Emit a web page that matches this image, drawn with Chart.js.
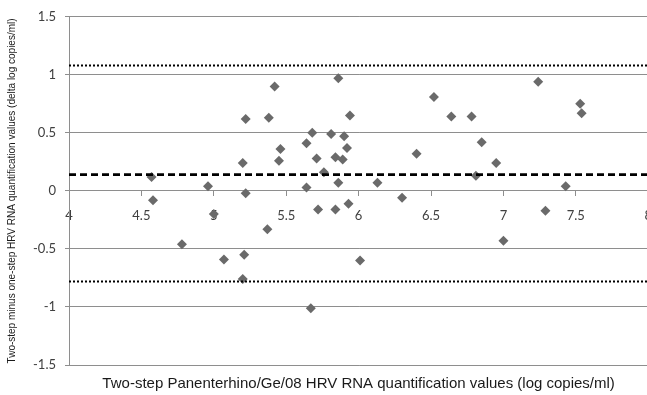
<!DOCTYPE html>
<html>
<head>
<meta charset="utf-8">
<script src="https://cdn.jsdelivr.net/npm/chart.js@4/dist/chart.umd.min.js"></script>
<style>
  html, body { margin: 0; padding: 0; background: #fff; overflow: hidden; }
  #wrap { position: relative; width: 664px; height: 395px; }
</style>
</head>
<body>
<div id="wrap"><canvas id="c"></canvas></div>
<script>
// Two-step HRV RNA quantification (log copies/ml)
const xValues = [4.57,4.58,4.78,4.96,5.00,5.07,5.21,5.20,5.20,5.22,5.22,5.38,5.42,5.46,5.45,5.37,5.64,5.68,5.71,5.76,5.64,5.72,5.81,5.86,5.84,5.90,5.92,5.89,5.86,5.84,5.93,5.94,5.67,6.01,6.13,6.30,6.40,6.52,6.64,6.78,6.85,6.81,6.95,7.00,7.24,7.29,7.43,7.53,7.54];
// Two-step minus one-step difference (delta log copies/ml)
const yValues = [0.12,-0.08,-0.46,0.04,-0.20,-0.59,-0.55,-0.76,0.24,0.62,-0.02,0.63,0.90,0.36,0.26,-0.33,0.41,0.50,0.28,0.16,0.03,-0.16,0.49,0.97,0.29,0.47,0.37,0.27,0.07,-0.16,-0.11,0.65,-1.01,-0.60,0.07,-0.06,0.32,0.81,0.64,0.64,0.42,0.13,0.24,-0.43,0.94,-0.17,0.04,0.75,0.67];
const meanDiff = 0.14;
const upperLimit = 1.08;
const lowerLimit = -0.78;
const xTicks = [4, 4.5, 5, 5.5, 6, 6.5, 7, 7.5, 8];
const xTickLabels = ['4', '4.5', '5', '5.5', '6', '6.5', '7', '7.5', '8'];
const yTicks = [-1.5, -1, -0.5, 0, 0.5, 1, 1.5];
const yTickLabels = ['-1.5', '-1', '-0.5', '0', '0.5', '1', '1.5'];
const xTitle = 'Two-step Panenterhino/Ge/08 HRV RNA quantification values (log copies/ml)';
const yTitle = 'Two-step minus one-step HRV RNA quantification values (delta log copies/ml)';

const xMin = xTicks[0], xMax = xTicks[xTicks.length - 1];
const points = xValues.map((x, i) => ({ x: x, y: yValues[i] }));
const hline = v => [{ x: xMin, y: v }, { x: xMax, y: v }];

const gridCol = '#8e8e8e';
const tickCol = '#404040';

new Chart(document.getElementById('c'), {
  type: 'scatter',
  data: {
    datasets: [
      { type: 'line', data: hline(upperLimit), borderColor: '#000', borderWidth: 2, borderDash: [2, 2], pointRadius: 0, fill: false },
      { type: 'line', data: hline(lowerLimit), borderColor: '#000', borderWidth: 2, borderDash: [2, 2], pointRadius: 0, fill: false },
      { type: 'line', data: hline(meanDiff), borderColor: '#000', borderWidth: 2.6, borderDash: [7, 4], pointRadius: 0, fill: false },
      { data: points, pointStyle: 'rectRot', pointRadius: 5, pointHoverRadius: 5, backgroundColor: '#6a6a6a', borderWidth: 0 }
    ]
  },
  options: {
    responsive: true,
    maintainAspectRatio: false,
    animation: false,
    devicePixelRatio: 1,
    layout: { padding: { top: 15, left: 0, right: 0, bottom: 0 } },
    plugins: { legend: { display: false }, tooltip: { enabled: false } },
    scales: {
      x: {
        type: 'linear',
        min: xMin, max: xMax,
        position: { y: 0 },
        afterBuildTicks: s => { s.ticks = xTicks.map(v => ({ value: v })); },
        ticks: { color: tickCol, font: { family: 'Lato', size: 13 }, padding: 12, maxRotation: 0, autoSkip: false,
                 callback: v => xTickLabels[xTicks.indexOf(v)] },
        grid: { drawOnChartArea: false, drawTicks: true, tickLength: 5, color: gridCol },
        border: { display: true, color: gridCol, width: 1 }
      },
      x2: {
        type: 'linear',
        axis: 'x',
        position: 'bottom',
        min: xMin, max: xMax,
        ticks: { display: false },
        grid: { display: false, drawTicks: false },
        border: { display: false },
        title: { display: true, text: xTitle, color: '#1a1a1a', font: { family: 'Liberation Sans', size: 15 }, padding: { top: 10, bottom: 2 } }
      },
      y: {
        type: 'linear',
        min: yTicks[0], max: yTicks[yTicks.length - 1],
        afterBuildTicks: s => { s.ticks = yTicks.map(v => ({ value: v })); },
        afterFit: s => { s.width = 69; },
        ticks: { color: tickCol, font: { family: 'Lato', size: 13 }, padding: 9,
                 callback: v => yTickLabels[yTicks.indexOf(v)] },
        grid: { color: gridCol, lineWidth: 1, drawTicks: true, tickLength: 4 },
        border: { display: true, color: gridCol, width: 1 },
        title: { display: true, text: yTitle, color: '#1a1a1a', font: { family: 'Liberation Sans', size: 10 }, padding: { top: 6, bottom: 0 } }
      }
    }
  }
});
</script>
</body>
</html>
